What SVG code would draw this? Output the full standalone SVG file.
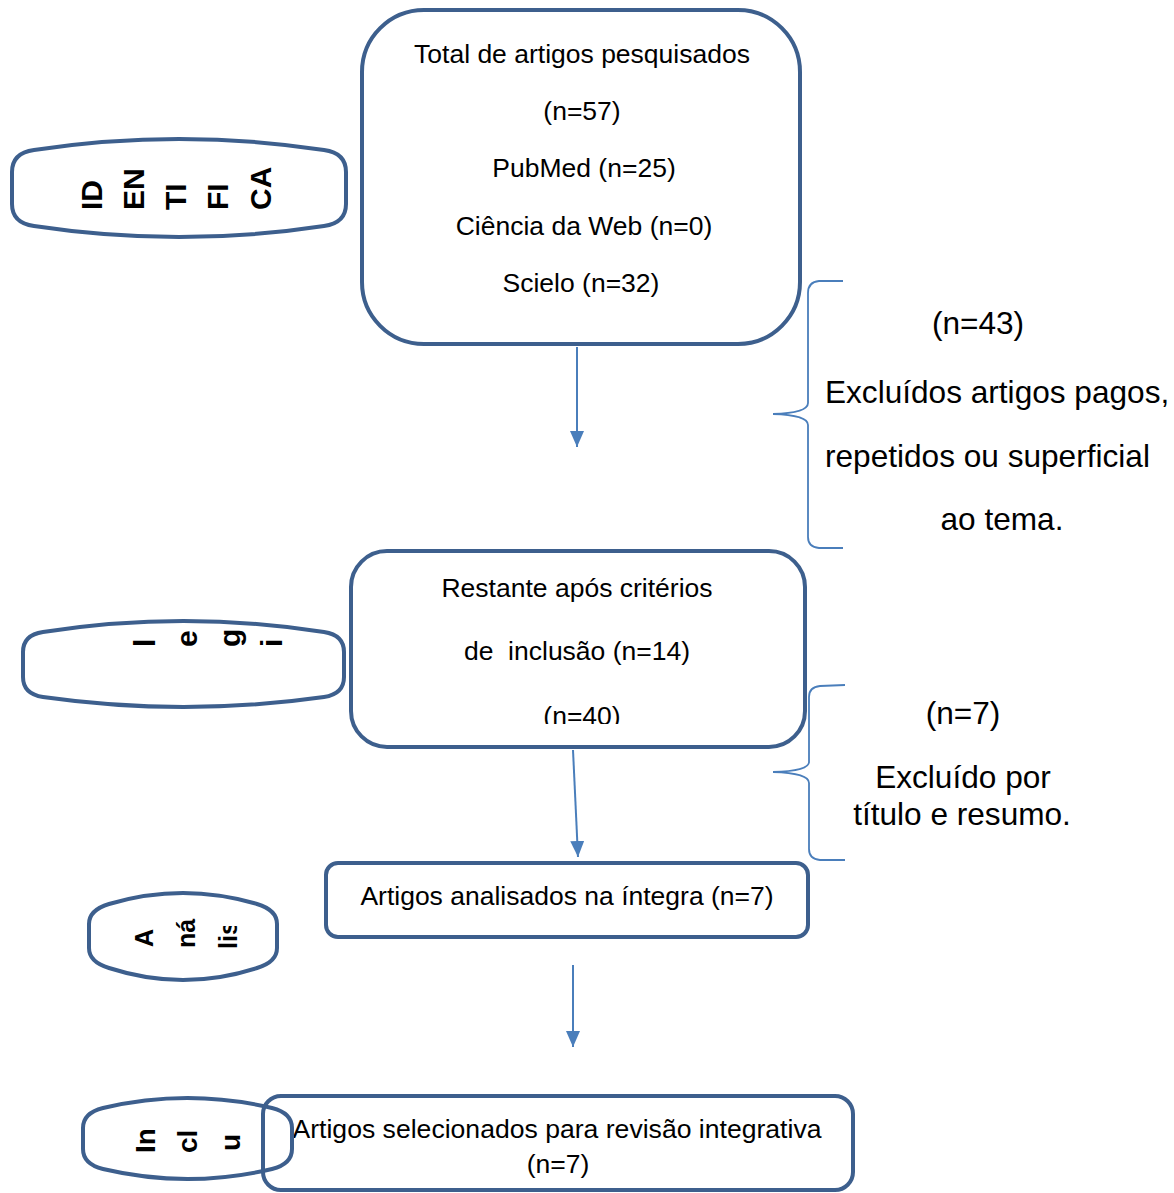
<svg xmlns="http://www.w3.org/2000/svg" width="1174" height="1193" viewBox="0 0 1174 1193">
  <style>
    .box { fill: #ffffff; stroke: #3d5f8d; stroke-width: 4; }
    .tag { fill: #ffffff; stroke: #3d5f8d; stroke-width: 4; stroke-linejoin: round; }
    .t { font-family: "Liberation Sans", Arial, sans-serif; font-size: 26.5px; fill: #000; text-anchor: middle; }
    .side { font-family: "Liberation Sans", Arial, sans-serif; font-size: 31.6px; fill: #000; }
    .v { font-family: "Liberation Sans", Arial, sans-serif; font-size: 30px; font-weight: bold; fill: #000; }
    .arrow { stroke: #4a7ebb; stroke-width: 2; fill: none; }
    .brace { stroke: #4a7ebb; stroke-width: 1.8; fill: none; }
  </style>
  <defs>
    <marker id="head" viewBox="0 0 16 14" refX="16" refY="7" markerWidth="16" markerHeight="14" markerUnits="userSpaceOnUse" orient="auto">
      <path d="M0,0 L16,7 L0,14 Z" fill="#4a7ebb"/>
    </marker>
    <clipPath id="clipN40"><rect x="350" y="690" width="455" height="34"/></clipPath>
    <clipPath id="clipLis"><rect x="200" y="926" width="60" height="40"/></clipPath>
  </defs>

  <rect width="1174" height="1193" fill="#ffffff"/>

  <!-- stage tags on the left, text runs bottom-to-top -->
  <g id="tag-identificacao">
    <path class="tag" d="M12,172 Q12,153 34,150 Q179,128 324,150 Q346,153 346,172 L346,204 Q346,223 324,226 Q179,248 34,226 Q12,223 12,204 Z"/>
    <text class="v" transform="translate(102,210) rotate(-90)">ID</text>
    <text class="v" transform="translate(144,210) rotate(-90)">EN</text>
    <text class="v" transform="translate(186,210) rotate(-90)">TI</text>
    <text class="v" transform="translate(228,210) rotate(-90)">FI</text>
    <text class="v" transform="translate(271,210) rotate(-90)">CA</text>
  </g>

  <g id="tag-elegibilidade">
    <path class="tag" d="M23,652 Q23,635 43,632 Q183.5,610 324,632 Q344,635 344,652 L344,677 Q344,694 324,697 Q183.5,717 43,697 Q23,694 23,677 Z"/>
    <text class="v" transform="translate(155,647) rotate(-90)">l</text>
    <text class="v" transform="translate(197,647) rotate(-90)">e</text>
    <text class="v" transform="translate(240,647) rotate(-90)">g</text>
    <text class="v" transform="translate(282,647) rotate(-90)">i</text>
  </g>

  <g id="tag-analise">
    <path class="tag" d="M89,924 Q89,910 109,904 Q183,882 257,904 Q277,910 277,924 L277,948 Q277,962 257,968 Q183,992 109,968 Q89,962 89,948 Z"/>
    <text class="v" style="font-size:25px" transform="translate(153,947) rotate(-90)">A</text>
    <text class="v" style="font-size:25px" transform="translate(195,948) rotate(-90)">ná</text>
    <g clip-path="url(#clipLis)">
      <text class="v" style="font-size:25px" transform="translate(237,949) rotate(-90)">lis</text>
    </g>
  </g>

  <!-- flow boxes -->
  <g id="node-total">
    <rect class="box" x="362" y="10" width="438" height="334" rx="62" ry="62"/>
    <text class="t" x="582" y="63">Total de artigos pesquisados</text>
    <text class="t" x="582" y="120">(n=57)</text>
    <text class="t" x="584" y="177">PubMed (n=25)</text>
    <text class="t" x="584" y="235">Ciência da Web (n=0)</text>
    <text class="t" x="581" y="292">Scielo (n=32)</text>
  </g>

  <g id="node-restante">
    <rect class="box" x="351" y="551" width="454" height="196" rx="36" ry="36"/>
    <text class="t" x="577" y="597">Restante após critérios</text>
    <text class="t" x="577" y="660" xml:space="preserve">de  inclusão (n=14)</text>
    <g clip-path="url(#clipN40)">
      <text class="t" x="582" y="725">(n=40)</text>
    </g>
  </g>

  <g id="node-analisados">
    <rect class="box" x="326" y="863" width="482" height="74" rx="12" ry="12"/>
    <text class="t" x="567" y="905">Artigos analisados na íntegra (n=7)</text>
  </g>

  <g id="node-selecionados">
    <rect class="box" x="263" y="1096" width="590" height="94" rx="18" ry="18"/>
    <text class="t" x="557" y="1138" textLength="529" lengthAdjust="spacingAndGlyphs">Artigos selecionados para revisão integrativa</text>
    <text class="t" x="558" y="1173">(n=7)</text>
  </g>

  <!-- last tag sits over the final box; only its outline is drawn -->
  <g id="tag-inclusao">
    <path class="tag" fill="none" style="fill:none" d="M83,1128 Q83,1113 103,1108 Q187.5,1088 272,1108 Q292,1113 292,1128 L292,1149 Q292,1164 272,1169 Q187.5,1189 103,1169 Q83,1164 83,1149 Z"/>
    <text class="v" style="font-size:28px" transform="translate(155,1153) rotate(-90)">In</text>
    <text class="v" style="font-size:28px" transform="translate(197,1153) rotate(-90)">cl</text>
    <text class="v" style="font-size:28px" transform="translate(240,1151) rotate(-90)">u</text>
  </g>

  <!-- exclusion notes -->
  <g id="note-excluidos-1">
    <text class="side" x="978" y="334" text-anchor="middle">(n=43)</text>
    <text class="side" x="825" y="403">Excluídos artigos pagos,</text>
    <text class="side" x="825" y="467">repetidos ou superficial</text>
    <text class="side" x="1002" y="530" text-anchor="middle">ao tema.</text>
  </g>

  <g id="note-excluidos-2">
    <text class="side" x="963" y="724" text-anchor="middle">(n=7)</text>
    <text class="side" x="963" y="788" text-anchor="middle">Excluído por</text>
    <text class="side" x="962" y="825" text-anchor="middle">título e resumo.</text>
  </g>

  <!-- connectors and braces -->
  <g id="connectors">
    <line class="arrow" x1="577" y1="347" x2="577" y2="447" marker-end="url(#head)"/>
    <line class="arrow" x1="573" y1="750" x2="578" y2="857" marker-end="url(#head)"/>
    <line class="arrow" x1="573" y1="965" x2="573" y2="1047" marker-end="url(#head)"/>
    <path class="brace" d="M843,281 L819,281 Q808,282 808,293 L808,403 Q808,413 773,414 Q808,415 808,425 L808,537 Q808,547 819,548 L843,548"/>
    <path class="brace" d="M845,685 L820,686 Q809,687 809,697 L809,762 Q809,771 773,772 Q809,773 809,783 L809,849 Q809,859 820,860 L845,860"/>
  </g>
</svg>
